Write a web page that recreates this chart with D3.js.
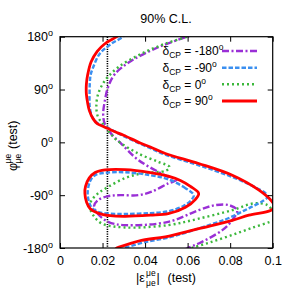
<!DOCTYPE html>
<html><head><meta charset="utf-8">
<script src="https://cdn.jsdelivr.net/npm/d3@7"></script>
<style>body{margin:0;background:#fff} text{font-family:"Liberation Sans",Arial,sans-serif;fill:#000}</style>
</head><body><svg id="c" width="294" height="300"></svg>
<script>
const xTicks=[0,0.02,0.04,0.06,0.08,0.1];
const xTickLabels=["0","0.02","0.04","0.06","0.08","0.1"];
const yTicks=[-180,-90,0,90,180];
const yTickLabels=["-180","-90","0","90","180"];
const legendLabels=["-180","-90","0","90"];
const refEps=0.0223;
// [|eps|, phi] pairs
const purpleCurve=[[0.065,186],[0.0598,180],[0.0462,162],[0.0336,139],[0.0258,116.5],[0.0226,94],[0.0211,71],[0.0203,48],[0.0211,31],[0.0242,14],[0.0282,0],[0.0368,-30],[0.0509,-58.7],[0.0547,-64.3],[0.0509,-70],[0.0431,-84],[0.0368,-90],[0.0283,-90],[0.0226,-91.6],[0.0179,-98.4],[0.016,-108.7],[0.0175,-120.6],[0.0226,-135.5],[0.0305,-141],[0.0509,-135.5],[0.0652,-115.5],[0.0731,-107],[0.0794,-107],[0.0833,-115.5],[0.081,-132.6],[0.0763,-149.6],[0.0652,-172.3],[0.0605,-179.2],[0.060,-180],[0.057,-186]];
const blueOuter=[[0.031,186],[0.0297,180],[0.0241,168],[0.0187,151],[0.0156,128],[0.0144,115],[0.0140,100],[0.0139,81],[0.0140,60],[0.0152,43],[0.0175,33],[0.0223,25],[0.0297,11],[0.0425,-10],[0.0495,-21],[0.0652,-39],[0.0810,-59],[0.092,-77],[0.0967,-87],[0.0976,-93],[0.0953,-100],[0.090,-110],[0.084,-121],[0.078,-131],[0.070,-141],[0.060,-153],[0.050,-163],[0.040,-170],[0.032,-178],[0.030,-180],[0.029,-186]];
const blueInner=[[0.0629,-90],[0.059,-78],[0.0509,-63],[0.0425,-56],[0.0307,-51],[0.0212,-52],[0.0165,-56],[0.0142,-66],[0.0130,-86],[0.0137,-102],[0.0151,-112],[0.0184,-119],[0.0236,-121.5],[0.0307,-122],[0.0425,-120.5],[0.0509,-117.5],[0.058,-108.5],[0.0618,-98]];
const greenCurve=[[0.064,186],[0.0598,180],[0.0494,168],[0.0383,151],[0.0274,128],[0.0211,105],[0.0179,82],[0.0171,60],[0.0179,43],[0.0203,31],[0.0226,20],[0.0266,4],[0.0368,-19],[0.046,-33],[0.0515,-42],[0.050,-48],[0.0383,-53],[0.0305,-61],[0.0226,-76],[0.0179,-87],[0.0148,-99],[0.0140,-110],[0.0156,-124],[0.0195,-138],[0.0305,-145],[0.0509,-141],[0.0652,-130],[0.081,-115.5],[0.0912,-104],[0.0975,-107],[0.1003,-118],[0.103,-128],[0.1005,-133],[0.09,-146],[0.08,-159],[0.07,-171],[0.062,-180],[0.058,-186]];
const redOuter=[[0.029,186],[0.0267,180],[0.0211,168],[0.0175,155],[0.0146,137],[0.0130,115],[0.0124,99],[0.0124,82],[0.0130,67],[0.0138,54],[0.0156,40],[0.0175,32],[0.0204,27],[0.0223,24],[0.0259,18],[0.0299,12],[0.0377,-1],[0.0425,-8],[0.0495,-19],[0.0652,-36],[0.0810,-56],[0.0934,-81],[0.0995,-100],[0.1010,-110],[0.0990,-116],[0.0888,-124],[0.0810,-133],[0.0652,-147],[0.0495,-161],[0.0383,-167],[0.0274,-179],[0.0267,-180],[0.025,-186]];
const redInner=[[0.0652,-87],[0.0613,-75],[0.0566,-65],[0.0509,-57.5],[0.0425,-51.5],[0.0307,-46.5],[0.0212,-47],[0.0165,-51.5],[0.0137,-61],[0.0120,-75],[0.0117,-87],[0.0125,-102],[0.0142,-113],[0.0179,-120.5],[0.0236,-125],[0.0307,-126],[0.0425,-124],[0.0509,-121.5],[0.059,-110.5],[0.0637,-97]];

const svg=d3.select("#c");
const L=60,R=272.7,T=36.7,B=248;
const x=d3.scaleLinear([0,0.1],[L,R]);
const y=d3.scaleLinear([-180,180],[B,T]);
const FS=12.5;

svg.append("text").attr("x",166).attr("y",23).attr("text-anchor","middle").attr("font-size",FS).text("90% C.L.");

const defs=svg.append("defs");
defs.append("clipPath").attr("id","clip").append("rect").attr("x",L).attr("y",T).attr("width",R-L).attr("height",B-T);

const styles=[
 {c:"#9a2fd6",d:"7,2.5,2,2.5",w:2.4},
 {c:"#3b8ff0",d:"4.5,2",w:2.4},
 {c:"#3cb83c",d:"2,3",w:2.4},
 {c:"#ff0000",d:null,w:2.8}
];
const open=d3.line().x(d=>x(d[0])).y(d=>y(d[1])).curve(d3.curveCatmullRom.alpha(0.5));
const closed=d3.line().x(d=>x(d[0])).y(d=>y(d[1])).curve(d3.curveCatmullRomClosed.alpha(0.5));
const g=svg.append("g").attr("clip-path","url(#clip)");
function draw(data,gen,s){
  const p=g.append("path").attr("d",gen(data)).attr("fill","none").attr("stroke",s.c).attr("stroke-width",s.w);
  if(s.d)p.attr("stroke-dasharray",s.d);
}
g.append("line").attr("x1",x(refEps)).attr("x2",x(refEps)).attr("y1",T).attr("y2",B)
 .attr("stroke","#000").attr("stroke-width",1.6).attr("stroke-dasharray","1.2,1.2");
draw(purpleCurve,open,styles[0]);
draw(greenCurve,open,styles[2]);
draw(blueOuter,open,styles[1]);
draw(blueInner,closed,styles[1]);
draw(redOuter,open,styles[3]);
draw(redInner,closed,styles[3]);

const axB=d3.axisBottom(x).tickValues(xTicks).tickSizeInner(-5).tickSizeOuter(0).tickFormat((d,i)=>xTickLabels[i]).tickPadding(8);
const gb=svg.append("g").attr("transform",`translate(0,${B})`).call(axB);
const axT=d3.axisTop(x).tickValues(xTicks).tickSizeInner(-5).tickSizeOuter(0).tickFormat("");
svg.append("g").attr("transform",`translate(0,${T})`).call(axT);
const axL=d3.axisLeft(y).tickValues(yTicks).tickSizeInner(-5).tickSizeOuter(0).tickFormat("");
svg.append("g").attr("transform",`translate(${L},0)`).call(axL);
const axR=d3.axisRight(y).tickValues(yTicks).tickSizeInner(-5).tickSizeOuter(0).tickFormat("");
svg.append("g").attr("transform",`translate(${R},0)`).call(axR);
svg.selectAll(".domain").remove();
svg.selectAll(".tick line").attr("stroke","#000").attr("stroke-width",1);
gb.selectAll(".tick text").attr("font-size",FS).attr("font-family","Liberation Sans, Arial, sans-serif").attr("fill","#000");
svg.append("rect").attr("x",L).attr("y",T).attr("width",R-L).attr("height",B-T).attr("fill","none").attr("stroke","#000").attr("stroke-width",1.2);

yTicks.forEach((v,i)=>{
  const t=svg.append("text").attr("x",53).attr("y",y(v)+4.5).attr("text-anchor","end").attr("font-size",FS);
  t.append("tspan").text(yTickLabels[i]);
  t.append("tspan").attr("dy",-5).attr("font-size",9).text("o");
});

// x axis label
svg.append("text").attr("x",136).attr("y",282).attr("font-size",FS).text("|ε");
svg.append("text").attr("x",146).attr("y",275.5).attr("font-size",8.5).text("μe");
svg.append("text").attr("x",146).attr("y",285.5).attr("font-size",8.5).text("μe");
svg.append("text").attr("x",156.5).attr("y",282).attr("font-size",FS).text("|");
svg.append("text").attr("x",167.5).attr("y",282).attr("font-size",FS).text("(test)");

const gy=svg.append("g").attr("transform","translate(17,171) rotate(-90)");
gy.append("text").attr("x",0).attr("y",0).attr("font-size",FS).text("φ");
gy.append("text").attr("x",7.5).attr("y",-6.5).attr("font-size",8.5).text("μe");
gy.append("text").attr("x",7.5).attr("y",3.5).attr("font-size",8.5).text("μe");
gy.append("text").attr("x",22).attr("y",0).attr("font-size",FS).text("(test)");

const legY=[51,67.7,84.3,101];
legendLabels.forEach((lab,i)=>{
  const yy=legY[i];
  const t=svg.append("text").attr("x",162.5).attr("y",yy+4.3).attr("font-size",12);
  t.append("tspan").text("δ");
  t.append("tspan").attr("dy",3).attr("font-size",8.5).text("CP");
  t.append("tspan").attr("dy",-3).text(" = "+lab);
  t.append("tspan").attr("dy",-5).attr("font-size",8.5).text("o");
  const s=styles[i];
  const l=svg.append("line").attr("x1",222).attr("x2",257).attr("y1",yy).attr("y2",yy)
    .attr("stroke",s.c).attr("stroke-width",s.w);
  if(s.d)l.attr("stroke-dasharray",s.d);
});
</script></body></html>
